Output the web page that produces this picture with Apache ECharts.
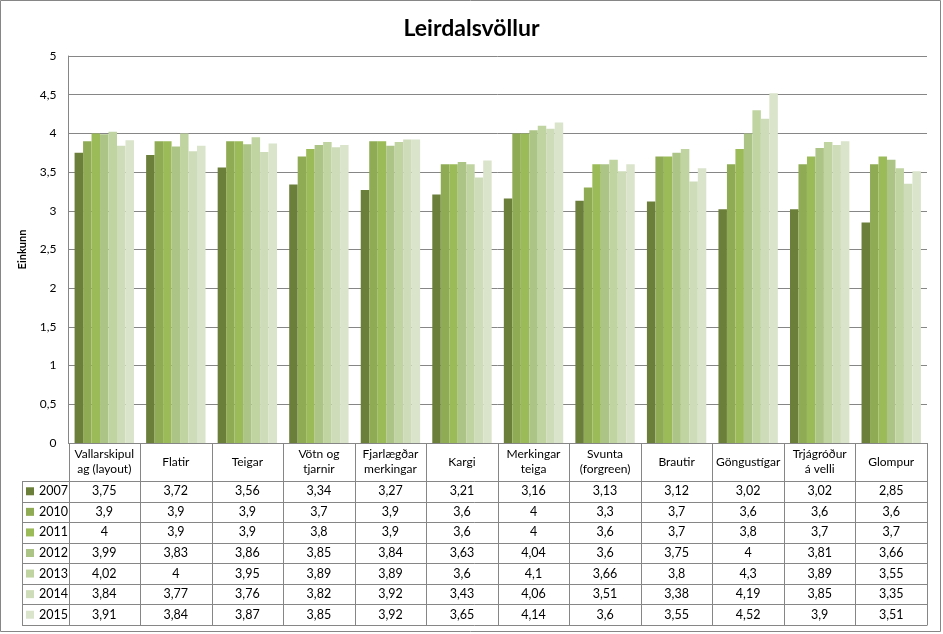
<!DOCTYPE html>
<html>
<head>
<meta charset="utf-8">
<script src="https://cdn.jsdelivr.net/npm/echarts@6/dist/echarts.min.js"></script>
<style>
html,body{margin:0;padding:0;background:#fff;}
#c{width:943px;height:634px;}
</style>
</head>
<body>
<div id="c"></div>
<script>
const categories = ["Vallarskipul\nag (layout)", "Flatir", "Teigar", "Vötn og\ntjarnir", "Fjarlægðar\nmerkingar", "Kargi", "Merkingar\nteiga", "Svunta\n(forgreen)", "Brautir", "Göngustígar", "Trjágróður\ná velli", "Glompur"];
const years = ["2007", "2010", "2011", "2012", "2013", "2014", "2015"];
const v2007 = [3.75, 3.72, 3.56, 3.34, 3.27, 3.21, 3.16, 3.13, 3.12, 3.02, 3.02, 2.85];
const v2010 = [3.9, 3.9, 3.9, 3.7, 3.9, 3.6, 4, 3.3, 3.7, 3.6, 3.6, 3.6];
const v2011 = [4, 3.9, 3.9, 3.8, 3.9, 3.6, 4, 3.6, 3.7, 3.8, 3.7, 3.7];
const v2012 = [3.99, 3.83, 3.86, 3.85, 3.84, 3.63, 4.04, 3.6, 3.75, 4, 3.81, 3.66];
const v2013 = [4.02, 4, 3.95, 3.89, 3.89, 3.6, 4.1, 3.66, 3.8, 4.3, 3.89, 3.55];
const v2014 = [3.84, 3.77, 3.76, 3.82, 3.92, 3.43, 4.06, 3.51, 3.38, 4.19, 3.85, 3.35];
const v2015 = [3.91, 3.84, 3.87, 3.85, 3.92, 3.65, 4.14, 3.6, 3.55, 4.52, 3.9, 3.51];
const seriesValues = [v2007, v2010, v2011, v2012, v2013, v2014, v2015];
const colors = ["#6b7f3b", "#8fac55", "#9bbb59", "#adc487", "#c0d4a2", "#cfdcba", "#dae4cb"];

const FONT = "Lato, 'Open Sans', sans-serif";
const L = 68.5, R = 927, T = 56, AX = 443, HDR = 481, BOT = 625, LEG = 22;
const rowH = (BOT - HDR) / years.length;
const fmt = v => String(v).replace('.', ',');

const xAxes = [{
  type: 'category', data: categories, gridIndex: 0, position: 'bottom',
  axisLine: {show: true, lineStyle: {color: '#868686', width: 1}},
  axisTick: {show: false},
  axisLabel: {interval: 0, margin: 19, verticalAlign: 'middle', lineHeight: 15, color: '#000', fontFamily: FONT, fontSize: 12}
}];
years.forEach((y, i) => {
  xAxes.push({
    type: 'category', data: categories, gridIndex: 0, position: 'bottom',
    axisLine: {show: false}, axisTick: {show: false}, splitLine: {show: false},
    axisLabel: {
      interval: 0, margin: (HDR - AX) + rowH * (i + 0.5), verticalAlign: 'middle',
      color: '#000', fontFamily: FONT, fontSize: 12.5,
      formatter: (val, idx) => fmt(seriesValues[i][idx])
    }
  });
});

const graphics = [];
const line = (x1, y1, x2, y2) => graphics.push({type: 'line', shape: {x1, y1, x2, y2}, style: {stroke: '#868686', lineWidth: 1}, silent: true});
// outer border
graphics.push({type: 'rect', shape: {x: 0.5, y: 0.5, width: 940, height: 631}, style: {fill: null, stroke: '#868686', lineWidth: 1}, silent: true});
const cw = (R - L) / categories.length;
for (let k = 0; k <= categories.length; k++) {
  const x = Math.round(L + k * cw) + 0.5;
  line(x, AX, x, BOT);
}
line(LEG + 0.5, HDR, LEG + 0.5, BOT);
for (let r = 0; r <= years.length; r++) {
  const y = Math.round(HDR + r * rowH) + 0.5;
  line(LEG, y, R + 0.5, y);
}

const option = {
  animation: false,
  color: colors,
  title: {text: 'Leirdalsvöllur', left: 'center', top: 12, textStyle: {fontFamily: FONT, fontSize: 23, fontWeight: 'bold', color: '#000'}},
  legend: {
    orient: 'vertical', left: 26, top: HDR, padding: 0, itemGap: 0,
    itemWidth: 8, itemHeight: 8, icon: 'rect',
    data: years,
    textStyle: {fontFamily: FONT, fontSize: 12.5, color: '#000', lineHeight: rowH, height: rowH}
  },
  grid: {left: L, right: 943 - R, top: T, bottom: 634 - AX, containLabel: false},
  xAxis: xAxes,
  yAxis: {
    type: 'value', min: 0, max: 5, interval: 0.5,
    name: 'Einkunn', nameLocation: 'middle', nameGap: 41, nameRotate: 90,
    nameTextStyle: {fontFamily: FONT, fontSize: 11, fontWeight: 'bold', color: '#000'},
    axisLine: {show: true, lineStyle: {color: '#868686'}},
    axisTick: {show: false},
    axisLabel: {fontFamily: FONT, fontSize: 12, color: '#000', margin: 12, formatter: v => fmt(v)},
    splitLine: {lineStyle: {color: '#868686', width: 1}}
  },
  series: years.map((y, i) => ({
    name: y, type: 'bar', xAxisIndex: 0, yAxisIndex: 0,
    data: seriesValues[i], barGap: '0%', barCategoryGap: '17%',
    itemStyle: {color: colors[i]}
  })),
  graphic: graphics
};
const chart = echarts.init(document.getElementById('c'), null, {renderer: 'canvas'});
chart.setOption(option);
</script>
</body>
</html>
